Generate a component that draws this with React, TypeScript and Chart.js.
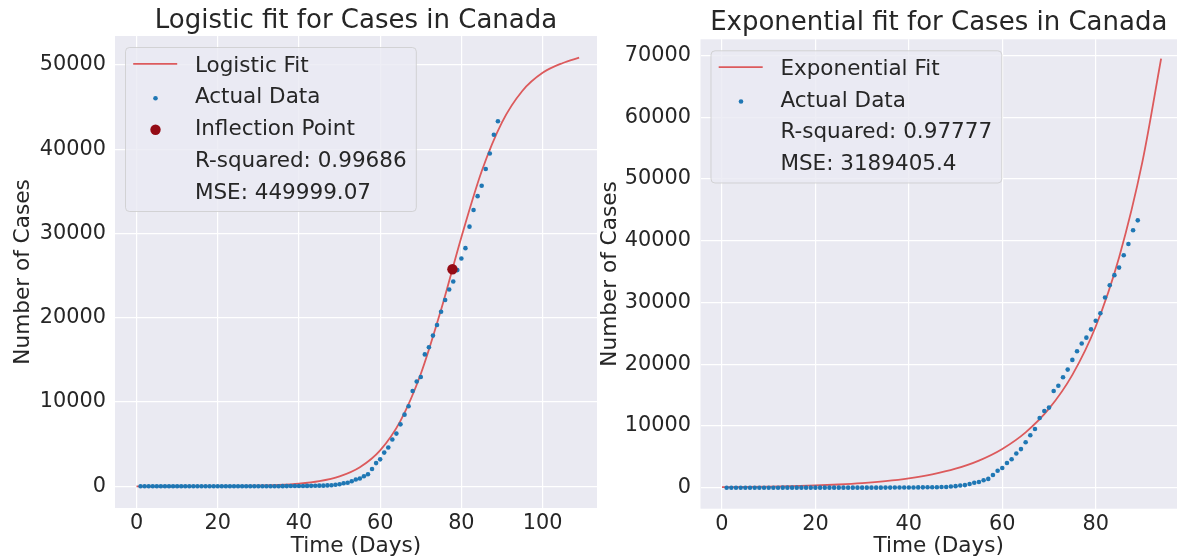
import React, { useEffect, useRef } from "react";
import { Chart, registerables } from "chart.js";

Chart.register(...registerables);

// ---------------- data ----------------
const DAYS = [
  1, 2, 3, 4, 5, 6, 7, 8, 9, 10,
  11, 12, 13, 14, 15, 16, 17, 18, 19, 20,
  21, 22, 23, 24, 25, 26, 27, 28, 29, 30,
  31, 32, 33, 34, 35, 36, 37, 38, 39, 40,
  41, 42, 43, 44, 45, 46, 47, 48, 49, 50,
  51, 52, 53, 54, 55, 56, 57, 58, 59, 60,
  61, 62, 63, 64, 65, 66, 67, 68, 69, 70,
  71, 72, 73, 74, 75, 76, 77, 78, 79, 80,
  81, 82, 83, 84, 85, 86, 87, 88, 89,
];

const CASES = [
  1, 1, 2, 2, 3, 4, 4, 4, 4, 4,
  5, 5, 7, 7, 7, 7, 7, 7, 7, 7,
  7, 7, 7, 7, 7, 7, 8, 8, 9, 10,
  10, 11, 11, 12, 14, 20, 24, 27, 30, 33,
  37, 49, 54, 64, 77, 79, 108, 117, 193, 250,
  360, 420, 600, 800, 920, 1200, 1430, 2050, 2750, 3200,
  4000, 4600, 5550, 6250, 7350, 8500, 9500, 11300, 12430, 12970,
  15650, 16500, 17880, 19130, 20700, 22100, 23350, 24300, 25650, 27030,
  28250, 30800, 32780, 34420, 35650, 37640, 39480, 41700, 43300,
];

const LOGISTIC_FIT_X = [
  0, 5, 10, 15, 20, 25, 30, 35, 40, 45,
  50, 55, 60, 65, 70, 75, 80, 85, 90, 95,
  100, 105, 109,
];
const LOGISTIC_FIT_Y = [
  1, 3, 5, 11, 21, 41, 81, 159, 311, 607,
  1181, 2268, 4270, 7770, 13320, 20950, 29550, 37370, 43180, 46900,
  49050, 50220, 50850,
];
const INFLECTION_X = [77.8];
const INFLECTION_Y = [25750];

const EXP_FIT_X = [
  0, 5, 10, 15, 20, 25, 30, 35, 40, 45,
  50, 55, 60, 65, 70, 75, 80, 85, 90, 94,
];
const EXP_FIT_Y = [
  87, 124, 178, 254, 362, 517, 739, 1055, 1507, 2152,
  3075, 4391, 6273, 8958, 12797, 18280, 26110, 37300, 52800, 69500,
];

const LOGISTIC_X_TICKS = [0, 20, 40, 60, 80, 100];
const LOGISTIC_Y_TICKS = [0, 10000, 20000, 30000, 40000, 50000];
const EXP_X_TICKS = [0, 20, 40, 60, 80];
const EXP_Y_TICKS = [0, 10000, 20000, 30000, 40000, 50000, 60000, 70000];

const LOGISTIC_TITLE = "Logistic fit for Cases in Canada";
const EXP_TITLE = "Exponential fit for Cases in Canada";
const X_LABEL = "Time (Days)";
const Y_LABEL = "Number of Cases";

const LOGISTIC_LEGEND = [
  "Logistic Fit",
  "Actual Data",
  "Inflection Point",
  "R-squared: 0.99686",
  "MSE: 449999.07",
];
const LOGISTIC_LEGEND_KINDS = ["line", "dot", "bigdot", "none", "none"];
const EXP_LEGEND = [
  "Exponential Fit",
  "Actual Data",
  "R-squared: 0.97777",
  "MSE: 3189405.4",
];
const EXP_LEGEND_KINDS = ["line", "dot", "none", "none"];

// ---------------- style ----------------
const FONT = "'DejaVu Sans', 'Noto Sans', sans-serif";
const TEXT = "#262626";
const PLOT_BG = "#EAEAF2";
const FIT_COLOR = "#DC5A5C";
const BLUE = "#1F77B4";
const DARK_RED = "#940B15";
const TICK_SIZE = 20.8;
const LABEL_SIZE = 21.6;
const LEGEND_SIZE = 21.5;
const TITLE_SIZE = 26;

const bgPlugin = {
  id: "plotBg",
  beforeDraw(chart: any) {
    const { ctx, chartArea } = chart;
    if (!chartArea) return;
    ctx.save();
    ctx.fillStyle = PLOT_BG;
    ctx.fillRect(
      chartArea.left,
      chartArea.top,
      chartArea.right - chartArea.left,
      chartArea.bottom - chartArea.top
    );
    ctx.restore();
  },
};

function makeLegendPlugin(labels: string[], kinds: string[]) {
  return {
    id: "mplLegend",
    afterDraw(chart: any) {
      const { ctx, chartArea } = chart;
      ctx.save();
      ctx.font = `${LEGEND_SIZE}px ${FONT}`;
      const bx = chartArea.left + 10.5;
      const by = chartArea.top + 11.5;
      const textOff = 69.4;
      const rowH = 31.8;
      let maxW = 0;
      labels.forEach((l) => {
        maxW = Math.max(maxW, ctx.measureText(l).width);
      });
      const bw = textOff + maxW + 9.7;
      const bh = 24 + (labels.length - 1) * rowH + 12.8;
      const r = 4;
      ctx.beginPath();
      ctx.moveTo(bx + r, by);
      ctx.lineTo(bx + bw - r, by);
      ctx.arcTo(bx + bw, by, bx + bw, by + r, r);
      ctx.lineTo(bx + bw, by + bh - r);
      ctx.arcTo(bx + bw, by + bh, bx + bw - r, by + bh, r);
      ctx.lineTo(bx + r, by + bh);
      ctx.arcTo(bx, by + bh, bx, by + bh - r, r);
      ctx.lineTo(bx, by + r);
      ctx.arcTo(bx, by, bx + r, by, r);
      ctx.closePath();
      ctx.fillStyle = "rgba(234,234,242,0.8)";
      ctx.fill();
      ctx.strokeStyle = "rgba(204,204,204,0.8)";
      ctx.lineWidth = 1;
      ctx.stroke();

      labels.forEach((label, i) => {
        const base = by + 24 + i * rowH;
        const cy = base - 7.7;
        const kind = kinds[i];
        if (kind === "line") {
          ctx.beginPath();
          ctx.moveTo(bx + 7.7, cy);
          ctx.lineTo(bx + 51.7, cy);
          ctx.strokeStyle = FIT_COLOR;
          ctx.lineWidth = 1.8;
          ctx.stroke();
        } else if (kind === "dot") {
          ctx.beginPath();
          ctx.arc(bx + 30, cy + 2.6, 2.3, 0, Math.PI * 2);
          ctx.fillStyle = BLUE;
          ctx.fill();
        } else if (kind === "bigdot") {
          ctx.beginPath();
          ctx.arc(bx + 30, cy + 2.4, 5.2, 0, Math.PI * 2);
          ctx.fillStyle = DARK_RED;
          ctx.fill();
        }
        ctx.fillStyle = TEXT;
        ctx.textAlign = "left";
        ctx.textBaseline = "alphabetic";
        ctx.fillText(label, bx + textOff, base);
      });
      ctx.restore();
    },
  };
}

type Params = {
  title: string;
  titlePad: { top: number; bottom: number };
  fitX: number[];
  fitY: number[];
  inflX?: number[];
  inflY?: number[];
  legend: string[];
  legendKinds: string[];
  xMin: number;
  xMax: number;
  yMin: number;
  yMax: number;
  xTicks: number[];
  yTicks: number[];
  yAxisWidth: number;
  xAxisHeight: number;
  yTitlePad: number;
  yTickPad: number;
  xTickPad: number;
};

function buildConfig(p: Params): any {
  const datasets: any[] = [
    {
      label: "fit",
      data: p.fitX.map((x, i) => ({ x, y: p.fitY[i] })),
      showLine: true,
      borderColor: FIT_COLOR,
      borderWidth: 1.8,
      pointRadius: 0,
      cubicInterpolationMode: "monotone",
      fill: false,
      order: 3,
    },
    {
      label: "Actual Data",
      data: DAYS.map((d, i) => ({ x: d, y: CASES[i] })),
      showLine: false,
      pointRadius: 2.3,
      pointBackgroundColor: BLUE,
      pointBorderWidth: 0,
      pointBorderColor: BLUE,
      order: 2,
    },
  ];
  if (p.inflX && p.inflY) {
    datasets.push({
      label: "Inflection Point",
      data: p.inflX.map((x, i) => ({ x, y: p.inflY![i] })),
      showLine: false,
      pointRadius: 5.2,
      pointBackgroundColor: DARK_RED,
      pointBorderWidth: 0,
      pointBorderColor: DARK_RED,
      order: 1,
    });
  }
  const tickFont = { family: FONT, size: TICK_SIZE };
  return {
    type: "line",
    data: { datasets },
    options: {
      animation: false,
      responsive: false,
      maintainAspectRatio: false,
      layout: { padding: 0, autoPadding: false },
      plugins: {
        legend: { display: false },
        tooltip: { enabled: false },
        title: {
          display: true,
          text: p.title,
          color: TEXT,
          fullSize: false,
          font: { family: FONT, size: TITLE_SIZE, weight: "normal", lineHeight: 1 },
          padding: p.titlePad,
        },
      },
      scales: {
        x: {
          type: "linear",
          min: p.xMin,
          max: p.xMax,
          afterBuildTicks: (s: any) => {
            s.ticks = p.xTicks.map((v) => ({ value: v }));
          },
          afterFit: (s: any) => {
            s.height = p.xAxisHeight;
            s.paddingLeft = 0;
            s.paddingRight = 0;
            s.paddingTop = 0;
            s.paddingBottom = 0;
          },
          grid: { color: "#FFFFFF", lineWidth: 1.2, drawTicks: false },
          border: { display: false },
          ticks: {
            color: TEXT,
            font: tickFont,
            padding: p.xTickPad,
            maxRotation: 0,
            autoSkip: false,
            callback: (v: any) => String(v),
          },
          title: {
            display: true,
            text: X_LABEL,
            color: TEXT,
            font: { family: FONT, size: LABEL_SIZE },
            padding: { top: 0, bottom: 1.04 },
          },
        },
        y: {
          type: "linear",
          min: p.yMin,
          max: p.yMax,
          afterBuildTicks: (s: any) => {
            s.ticks = p.yTicks.map((v) => ({ value: v }));
          },
          afterFit: (s: any) => {
            s.width = p.yAxisWidth;
            s.paddingLeft = 0;
            s.paddingRight = 0;
            s.paddingTop = 0;
            s.paddingBottom = 0;
          },
          grid: { color: "#FFFFFF", lineWidth: 1.2, drawTicks: false },
          border: { display: false },
          ticks: {
            color: TEXT,
            font: tickFont,
            padding: p.yTickPad,
            autoSkip: false,
            callback: (v: any) => String(v),
          },
          title: {
            display: true,
            text: Y_LABEL,
            color: TEXT,
            font: { family: FONT, size: LABEL_SIZE },
            padding: { top: p.yTitlePad, bottom: 0 },
          },
        },
      },
    },
    plugins: [bgPlugin, makeLegendPlugin(p.legend, p.legendKinds)],
  };
}

function FitChart(props: {
  params: Params;
  left: number;
  width: number;
  height: number;
}) {
  const ref = useRef<HTMLCanvasElement>(null);
  useEffect(() => {
    if (!ref.current) return;
    const chart = new Chart(ref.current, buildConfig(props.params));
    return () => chart.destroy();
  }, []);
  return (
    <canvas
      ref={ref}
      width={props.width}
      height={props.height}
      style={{
        position: "absolute",
        left: props.left,
        top: 0,
        width: props.width,
        height: props.height,
      }}
    />
  );
}

const LOGISTIC_PARAMS: Params = {
  title: LOGISTIC_TITLE,
  titlePad: { top: 8.7, bottom: 1.3 },
  fitX: LOGISTIC_FIT_X,
  fitY: LOGISTIC_FIT_Y,
  inflX: INFLECTION_X,
  inflY: INFLECTION_Y,
  legend: LOGISTIC_LEGEND,
  legendKinds: LOGISTIC_LEGEND_KINDS,
  xMin: -5.3,
  xMax: 113.4,
  yMin: -2574,
  yMax: 53420,
  xTicks: LOGISTIC_X_TICKS,
  yTicks: LOGISTIC_Y_TICKS,
  yAxisWidth: 115,
  xAxisHeight: 52,
  yTitlePad: 10.5,
  yTickPad: 9,
  xTickPad: 2.8,
};

const EXP_PARAMS: Params = {
  title: EXP_TITLE,
  titlePad: { top: 10.3, bottom: 3.0 },
  fitX: EXP_FIT_X,
  fitY: EXP_FIT_Y,
  legend: EXP_LEGEND,
  legendKinds: EXP_LEGEND_KINDS,
  xMin: -4.6,
  xMax: 97.4,
  yMin: -3400,
  yMax: 72620,
  xTicks: EXP_X_TICKS,
  yTicks: EXP_Y_TICKS,
  yAxisWidth: 103.5,
  xAxisHeight: 51.3,
  yTitlePad: 0.74,
  yTickPad: 9.5,
  xTickPad: 3.7,
};

export default function App() {
  return (
    <div
      style={{
        position: "fixed",
        left: 0,
        top: 0,
        width: 1177,
        height: 560,
        background: "#FFFFFF",
        overflow: "hidden",
      }}
    >
      <FitChart params={LOGISTIC_PARAMS} left={0} width={597} height={560} />
      <FitChart params={EXP_PARAMS} left={597} width={580} height={560} />
    </div>
  );
}
